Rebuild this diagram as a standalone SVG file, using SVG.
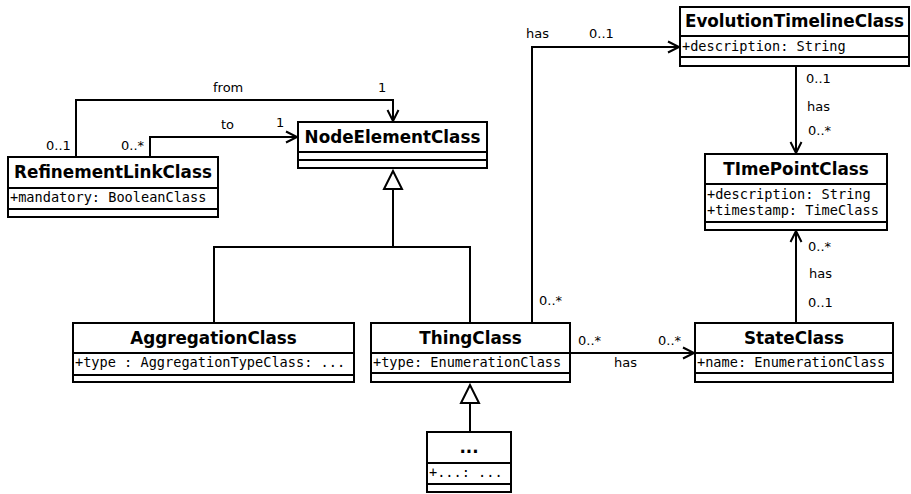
<svg xmlns="http://www.w3.org/2000/svg" width="911" height="494" viewBox="0 0 911 494">
<style>
.box{fill:#fff;stroke:#000;stroke-width:2}
.div{stroke:#000;stroke-width:2}
.name{font-family:"DejaVu Sans",sans-serif;font-weight:bold;font-size:16.8px;text-anchor:middle;fill:#000}
.attr{font-family:"DejaVu Sans Mono",monospace;font-size:13.6px;fill:#000}
.lbl{font-family:"DejaVu Sans",sans-serif;font-size:13px;fill:#000}
.con{fill:none;stroke:#000;stroke-width:2}
</style>
<defs>
<marker id="open" markerUnits="userSpaceOnUse" markerWidth="14" markerHeight="14" refX="11" refY="6" orient="auto" overflow="visible">
<path d="M0,0.5 L11,6 L0,11.5" fill="none" stroke="#000" stroke-width="2"/>
</marker>
<marker id="gen" markerUnits="userSpaceOnUse" markerWidth="20" markerHeight="20" refX="18" refY="9" orient="auto" overflow="visible">
<path d="M0,0 L18,9 L0,18 Z" fill="#fff" stroke="#000" stroke-width="2"/>
</marker>
</defs>
<g id="connectors">
<path class="con" d="M76,157 V100 H393 V121" marker-end="url(#open)"/>
<path class="con" d="M150,157 V137 H297" marker-end="url(#open)"/>
<path class="con" d="M393,247 V171" marker-end="url(#gen)"/>
<path class="con" d="M214,323 V247 H470 V323"/>
<path class="con" d="M470,432 V385" marker-end="url(#gen)"/>
<path class="con" d="M532,323 V47 H679" marker-end="url(#open)"/>
<path class="con" d="M796,66 V153" marker-end="url(#open)"/>
<path class="con" d="M796,323 V231" marker-end="url(#open)"/>
<path class="con" d="M570,353 H694" marker-end="url(#open)"/>
<text class="lbl" x="213" y="92">from</text>
<text class="lbl" x="378" y="92">1</text>
<text class="lbl" x="221" y="129">to</text>
<text class="lbl" x="276" y="127">1</text>
<text class="lbl" x="46" y="150">0..1</text>
<text class="lbl" x="121" y="150">0..*</text>
<text class="lbl" x="526" y="38">has</text>
<text class="lbl" x="589" y="38">0..1</text>
<text class="lbl" x="806" y="83">0..1</text>
<text class="lbl" x="807" y="111">has</text>
<text class="lbl" x="808" y="135">0..*</text>
<text class="lbl" x="808" y="251">0..*</text>
<text class="lbl" x="809" y="278">has</text>
<text class="lbl" x="808" y="307">0..1</text>
<text class="lbl" x="539" y="305">0..*</text>
<text class="lbl" x="578" y="345">0..*</text>
<text class="lbl" x="658" y="345">0..*</text>
<text class="lbl" x="614" y="367">has</text>
</g>
<g id="RefinementLinkClass">
<rect class="box" x="8" y="157" width="210" height="60"/>
<line class="div" x1="8" y1="188" x2="218" y2="188"/>
<line class="div" x1="8" y1="209" x2="218" y2="209"/>
<text class="name" x="113" y="178">RefinementLinkClass</text>
<text class="attr" x="10" y="202">+mandatory: BooleanClass</text>
</g>
<g id="NodeElementClass">
<rect class="box" x="298" y="122" width="189" height="46"/>
<line class="div" x1="298" y1="152" x2="487" y2="152"/>
<line class="div" x1="298" y1="160" x2="487" y2="160"/>
<text class="name" x="392.5" y="143">NodeElementClass</text>
</g>
<g id="EvolutionTimelineClass">
<rect class="box" x="680" y="7" width="229" height="59"/>
<line class="div" x1="680" y1="36" x2="909" y2="36"/>
<line class="div" x1="680" y1="57" x2="909" y2="57"/>
<text class="name" x="794.5" y="27">EvolutionTimelineClass</text>
<text class="attr" x="682" y="51">+description: String</text>
</g>
<g id="TImePointClass">
<rect class="box" x="705" y="154" width="182" height="76"/>
<line class="div" x1="705" y1="184" x2="887" y2="184"/>
<line class="div" x1="705" y1="222" x2="887" y2="222"/>
<text class="name" x="796" y="175">TImePointClass</text>
<text class="attr" x="707" y="199">+description: String</text>
<text class="attr" x="707" y="215">+timestamp: TimeClass</text>
</g>
<g id="AggregationClass">
<rect class="box" x="73" y="323" width="281" height="59"/>
<line class="div" x1="73" y1="353" x2="354" y2="353"/>
<line class="div" x1="73" y1="375" x2="354" y2="375"/>
<text class="name" x="213.5" y="344">AggregationClass</text>
<text class="attr" x="75" y="367">+type : AggregationTypeClass: ...</text>
</g>
<g id="ThingClass">
<rect class="box" x="371" y="323" width="199" height="59"/>
<line class="div" x1="371" y1="353" x2="570" y2="353"/>
<line class="div" x1="371" y1="373" x2="570" y2="373"/>
<text class="name" x="470.5" y="344">ThingClass</text>
<text class="attr" x="373" y="367">+type: EnumerationClass</text>
</g>
<g id="StateClass">
<rect class="box" x="695" y="323" width="198" height="59"/>
<line class="div" x1="695" y1="353" x2="893" y2="353"/>
<line class="div" x1="695" y1="373" x2="893" y2="373"/>
<text class="name" x="794" y="344">StateClass</text>
<text class="attr" x="697" y="367">+name: EnumerationClass</text>
</g>
<g id="SubClass">
<rect class="box" x="427" y="432" width="84" height="60"/>
<line class="div" x1="427" y1="463" x2="511" y2="463"/>
<line class="div" x1="427" y1="484" x2="511" y2="484"/>
<text class="name" x="469" y="453">...</text>
<text class="attr" x="429" y="477">+...: ...</text>
</g>
</svg>
